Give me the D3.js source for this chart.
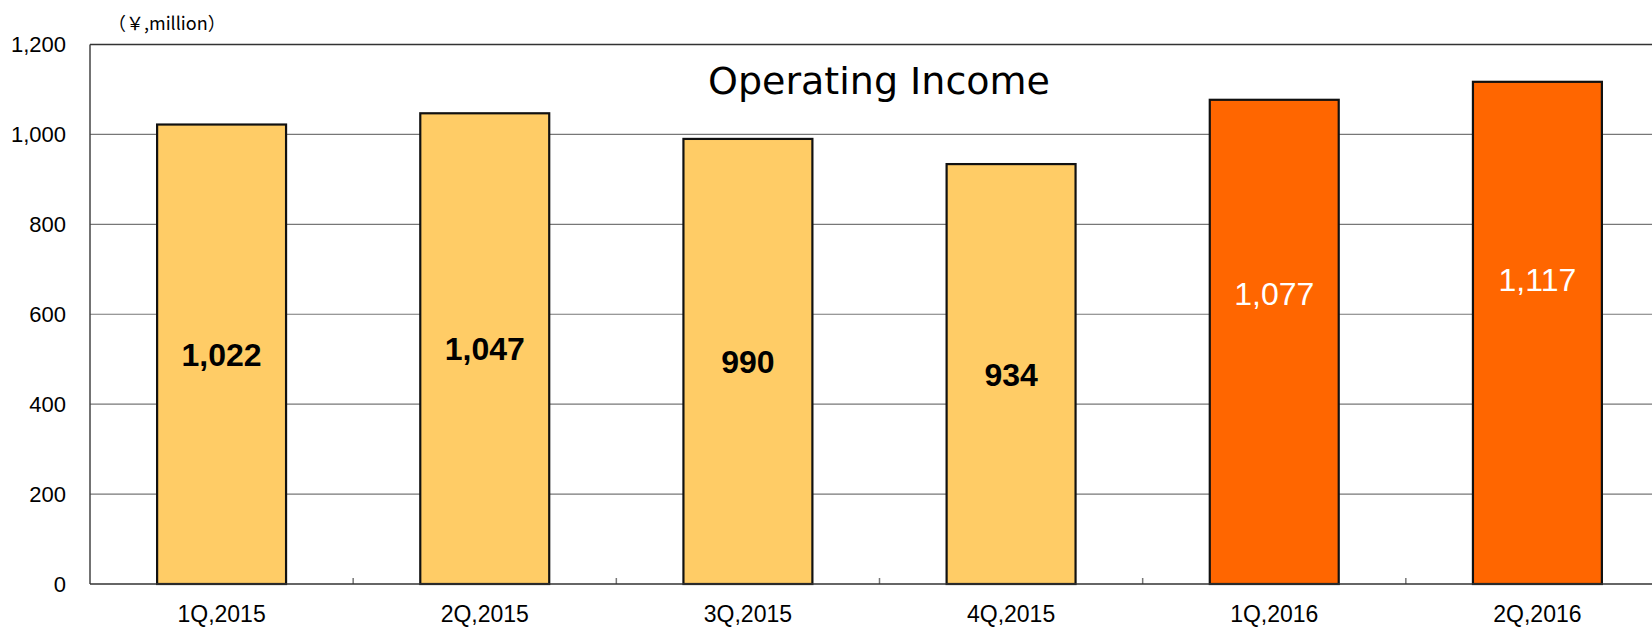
<!DOCTYPE html>
<html>
<head>
<meta charset="utf-8">
<script src="https://cdn.jsdelivr.net/npm/d3@7"></script>
<style>
  html, body { margin: 0; padding: 0; background: #fff; }
  svg { display: block; }
  text { font-family: "Liberation Sans", Arial, sans-serif; }
</style>
</head>
<body>
<svg id="chart" width="1652" height="628"></svg>
<script>
// data
const periods = ["1Q,2015", "2Q,2015", "3Q,2015", "4Q,2015", "1Q,2016", "2Q,2016"];
const income = [1022, 1047, 990, 934, 1077, 1117];
const highlight = [false, false, false, false, true, true]; // current fiscal year in dark orange
const labelPos = [0.5, 0.5, 0.5, 0.5, 0.6, 0.607]; // where the value label sits, share of bar height
const yTicks = [0, 200, 400, 600, 800, 1000, 1200];

const svg = d3.select("#chart");
const plotLeft = 90, plotTop = 44.5, plotBottom = 584, plotRight = 1669; // plot runs past the window on the right

const x = d3.scaleBand()
    .domain(periods)
    .range([plotLeft, plotRight])
    .paddingInner(0.51)
    .paddingOuter(0.255);

const y = d3.scaleLinear()
    .domain([0, 1200])
    .range([plotBottom, plotTop]);

const step = x.step();

// gridlines
svg.append("g")
    .selectAll("line")
    .data(yTicks.filter(d => d > 0))
    .join("line")
    .attr("x1", plotLeft)
    .attr("x2", plotRight)
    .attr("y1", d => y(d))
    .attr("y2", d => y(d))
    .attr("stroke", d => d === 1200 ? "#333" : "#777")
    .attr("stroke-width", d => d === 1200 ? 1.5 : 1.2);

// y axis (labels only, line drawn separately)
const yAxis = svg.append("g")
    .attr("transform", `translate(${plotLeft},0)`)
    .call(d3.axisLeft(y).tickValues(yTicks).tickSize(0).tickPadding(24).tickFormat(d3.format(",")));
yAxis.select(".domain").remove();
yAxis.selectAll("text")
    .attr("font-size", 22)
    .attr("fill", "#000")
    .style("font-family", "'Liberation Sans', Arial, sans-serif");

svg.append("line")
    .attr("x1", plotLeft).attr("x2", plotLeft)
    .attr("y1", plotTop).attr("y2", plotBottom)
    .attr("stroke", "#444").attr("stroke-width", 1.5);

// category boundary ticks on the baseline
svg.append("g")
    .selectAll("line")
    .data(d3.range(1, periods.length))
    .join("line")
    .attr("x1", i => plotLeft + i * step)
    .attr("x2", i => plotLeft + i * step)
    .attr("y1", plotBottom)
    .attr("y2", plotBottom - 6)
    .attr("stroke", "#777")
    .attr("stroke-width", 1.5);

// bars
svg.append("g")
    .selectAll("rect")
    .data(periods)
    .join("rect")
    .attr("x", d => x(d))
    .attr("width", x.bandwidth())
    .attr("y", (d, i) => y(income[i]))
    .attr("height", (d, i) => y(0) - y(income[i]))
    .attr("fill", (d, i) => highlight[i] ? "#FF6600" : "#FFCC66")
    .attr("stroke", "#111")
    .attr("stroke-width", 2.2);

// baseline
svg.append("line")
    .attr("x1", plotLeft).attr("x2", plotRight)
    .attr("y1", plotBottom).attr("y2", plotBottom)
    .attr("stroke", "#333").attr("stroke-width", 1.5);

// x axis labels
const xAxis = svg.append("g")
    .attr("transform", `translate(0,${plotBottom})`)
    .call(d3.axisBottom(x).tickSize(0).tickPadding(22));
xAxis.select(".domain").remove();
xAxis.selectAll("text")
    .attr("font-size", 23)
    .attr("fill", "#000")
    .style("font-family", "'Liberation Sans', Arial, sans-serif");

// value labels
svg.append("g")
    .selectAll("text")
    .data(periods)
    .join("text")
    .attr("x", d => x(d) + x.bandwidth() / 2)
    .attr("y", (d, i) => y(income[i] * labelPos[i]))
    .attr("dy", "0.36em")
    .attr("text-anchor", "middle")
    .attr("font-size", 32)
    .attr("font-weight", (d, i) => highlight[i] ? "normal" : "bold")
    .attr("fill", (d, i) => highlight[i] ? "#fff" : "#000")
    .text((d, i) => d3.format(",")(income[i]));

// title
svg.append("text")
    .attr("x", 879)
    .attr("y", 94)
    .attr("text-anchor", "middle")
    .attr("font-size", 38)
    .attr("fill", "#000")
    .style("font-family", "'DejaVu Sans', sans-serif")
    .text("Operating Income");

// unit
svg.append("text")
    .attr("x", 108)
    .attr("y", 30)
    .attr("font-size", 18)
    .attr("fill", "#000")
    .style("font-family", "'Noto Sans CJK JP', 'Liberation Sans', sans-serif")
    .text("（￥,million）");
</script>
</body>
</html>
